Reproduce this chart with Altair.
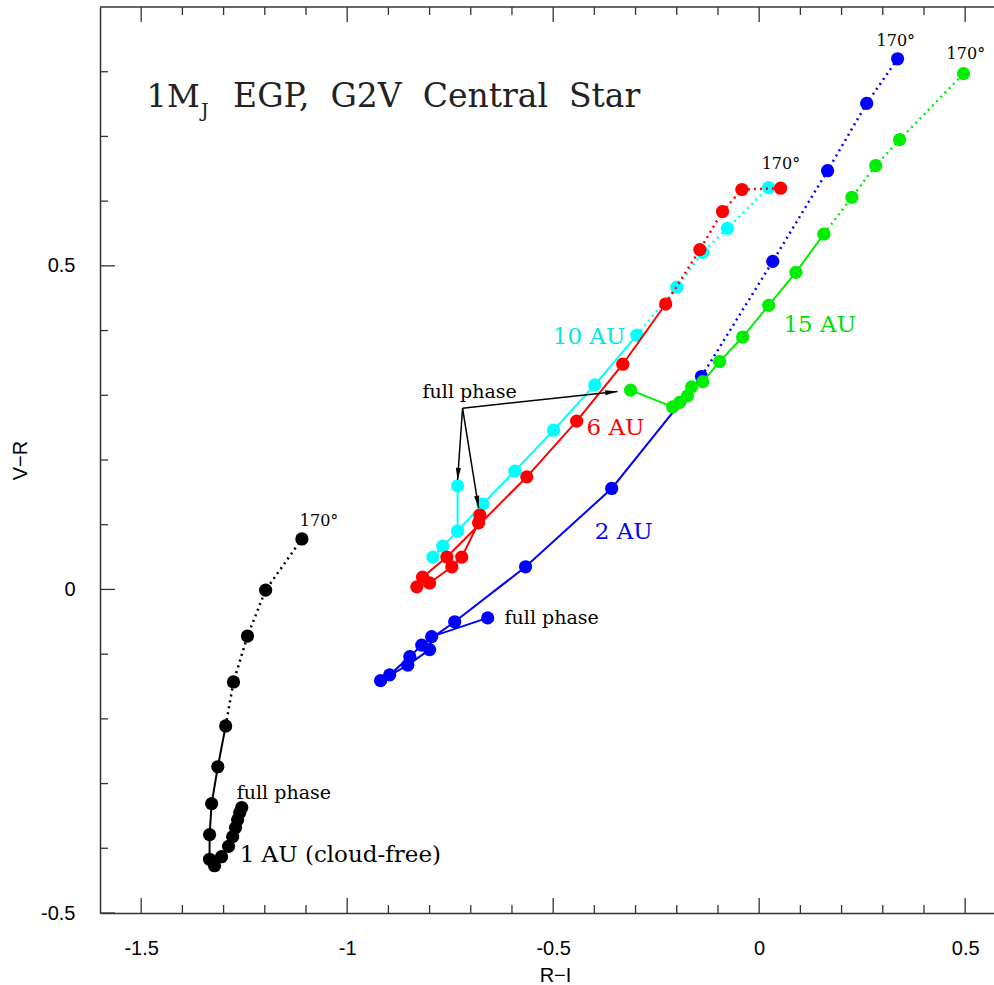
import math
import altair as alt
import numpy as np
import pandas as pd

# ---------------- data ----------------
series_names = ["1 AU", "2 AU", "6 AU", "10 AU", "15 AU"]
series_colors = ["#000000", "#0000ff", "#ff0000", "#00ffff", "#00ee00"]

au1_x = [-1.256, -1.261, -1.266, -1.271, -1.278, -1.288, -1.305, -1.322, -1.334,
         -1.334, -1.329, -1.314, -1.295, -1.276, -1.242, -1.198, -1.110]
au1_y = [-0.337, -0.345, -0.356, -0.368, -0.382, -0.397, -0.413, -0.427, -0.417,
         -0.379, -0.331, -0.274, -0.211, -0.143, -0.072, -0.001, 0.078]

au2_x = [-0.659, -0.795, -0.800, -0.853, -0.919, -0.897, -0.848, -0.819, -0.739,
         -0.567, -0.358, -0.140, 0.033, 0.166, 0.261, 0.336]
au2_y = [-0.044, -0.073, -0.093, -0.117, -0.141, -0.132, -0.104, -0.086, -0.050,
         0.035, 0.156, 0.329, 0.507, 0.647, 0.751, 0.820]

au6_x = [-0.678, -0.681, -0.722, -0.746, -0.800, -0.831, -0.817, -0.758, -0.564,
         -0.443, -0.331, -0.227, -0.144, -0.089, -0.042, 0.052]
au6_y = [0.115, 0.103, 0.050, 0.035, 0.010, 0.004, 0.019, 0.050, 0.174,
         0.260, 0.348, 0.441, 0.525, 0.584, 0.618, 0.620]

au10_x = [-0.732, -0.732, -0.768, -0.792, -0.671, -0.593, -0.499, -0.399, -0.297,
          -0.200, -0.137, -0.077, 0.023]
au10_y = [0.160, 0.090, 0.067, 0.050, 0.132, 0.183, 0.246, 0.316, 0.393,
          0.467, 0.521, 0.558, 0.621]

au15_x = [-0.312, -0.210, -0.193, -0.174, -0.164, -0.137, -0.096, -0.040, 0.023,
          0.089, 0.157, 0.225, 0.283, 0.341, 0.496]
au15_y = [0.308, 0.282, 0.289, 0.299, 0.313, 0.321, 0.352, 0.390, 0.439,
          0.490, 0.549, 0.606, 0.655, 0.695, 0.797]

# index of last point on the solid part (dotted afterwards)
solid_last = [12, 11, 11, 8, 10]

series_x = [au1_x, au2_x, au6_x, au10_x, au15_x]
series_y = [au1_y, au2_y, au6_y, au10_y, au15_y]
draw_order = ["10 AU", "6 AU", "2 AU", "15 AU", "1 AU"]

# annotations
lab_text = ["1 AU (cloud-free)", "full phase", "170°", "full phase", "2 AU", "6 AU",
            "10 AU", "15 AU", "full phase", "170°", "170°", "170°"]
lab_x = [-1.261, -1.268, -1.115, -0.618, -0.399, -0.419, -0.501, 0.059, -0.817,
         0.006, 0.285, 0.455]
lab_y = [-0.411, -0.314, 0.106, -0.044, 0.089, 0.249, 0.390, 0.408, 0.305,
         0.657, 0.848, 0.828]
lab_color = ["#000000", "#000000", "#000000", "#000000", "#0000ff", "#ff0000",
             "#00e5e5", "#00dd00", "#000000", "#000000", "#000000", "#000000"]
lab_size = [23, 19, 16, 19, 23, 23, 23, 23, 19, 16, 16, 16]

NB = "\u00a0"
title_text = ["1M", "J", "EGP," + NB * 2 + "G2V" + NB * 2 + "Central" + NB * 2 + "Star"]
title_x = [-1.487, -1.355, -1.277]
title_y = [0.746, 0.730, 0.746]
title_size = [32, 19, 33]

arrow_x0 = [-0.720, -0.720, -0.720]
arrow_y0 = [0.280, 0.280, 0.280]
arrow_x1 = [-0.732, -0.681, -0.344]
arrow_y1 = [0.169, 0.126, 0.306]

x_major = [-1.5, -1.0, -0.5, 0.0, 0.5]
y_major = [-0.5, 0.0, 0.5]

# ---------------- layout ----------------
W, H = 894, 906
XMIN, XMAX = -1.6, 0.57
YMIN, YMAX = -0.5, 0.9
PXX = W / (XMAX - XMIN)
PXY = H / (YMAX - YMIN)
FRAME = "#333333"

def _is_major(v):
    return abs(v * 2 - round(v * 2)) < 1e-6

x_minor = [round(v, 1) for v in np.arange(-1.5, 0.55, 0.1) if not _is_major(round(v, 1))]
y_minor = [round(v, 1) for v in np.arange(-0.4, 0.85, 0.1) if not _is_major(round(v, 1))]

xscale = alt.Scale(domain=[XMIN, XMAX], nice=False, zero=False)
yscale = alt.Scale(domain=[YMIN, YMAX], nice=False, zero=False)

label_expr = "replace(format(datum.value, '~g'), '\u2212', '-')"

xaxis = alt.Axis(values=x_major, ticks=False, grid=False, domainColor=FRAME, domainWidth=1.5,
                 labelFont="Liberation Sans", labelFontSize=20, labelColor="#000000",
                 labelExpr=label_expr,
                 labelPadding=25, labelFlush=False, title="R−I", titleFont="Liberation Sans",
                 titleFontSize=20, titleFontWeight="normal", titleColor="#000000",
                 titleX=455, titleY=68, titleBaseline="alphabetic", titleAlign="center")
yaxis = alt.Axis(values=y_major, ticks=False, grid=False, domainColor=FRAME, domainWidth=1.5,
                 labelFont="Liberation Sans", labelFontSize=20, labelColor="#000000",
                 labelExpr=label_expr,
                 labelPadding=25, labelFlush=False, title="V−R", titleFont="Liberation Sans",
                 titleFontSize=20, titleFontWeight="normal", titleColor="#000000",
                 titleX=-80, titleBaseline="middle")

X = alt.X("x:Q", scale=xscale, axis=xaxis)
Y = alt.Y("y:Q", scale=yscale, axis=yaxis)

layers = []

# frame top line
layers.append(alt.Chart(pd.DataFrame({"x": [0]})).mark_rule(color=FRAME, strokeWidth=1.5).encode(
    x=alt.value(0), x2=alt.value(W), y=alt.value(0)))

# inward ticks
dfxM = pd.DataFrame({"x": x_major})
dfxm = pd.DataFrame({"x": x_minor})
dfyM = pd.DataFrame({"y": y_major})
dfym = pd.DataFrame({"y": y_minor})
for df, ln in [(dfxM, 15), (dfxm, 8)]:
    layers.append(alt.Chart(df).mark_rule(color=FRAME, strokeWidth=1.3).encode(
        x=X, y=alt.value(H), y2=alt.value(H - ln)))
    layers.append(alt.Chart(df).mark_rule(color=FRAME, strokeWidth=1.3).encode(
        x=X, y=alt.value(0), y2=alt.value(ln)))
for df, ln in [(dfyM, 15), (dfym, 8)]:
    layers.append(alt.Chart(df).mark_rule(color=FRAME, strokeWidth=1.3).encode(
        y=Y, x=alt.value(0), x2=alt.value(ln)))

# series
for name in draw_order:
    k = series_names.index(name)
    col = series_colors[k]
    xs, ys, sl = series_x[k], series_y[k], solid_last[k]
    df = pd.DataFrame({"x": xs, "y": ys, "i": list(range(len(xs)))})
    solid = df[df["i"] <= sl]
    dotted = df[df["i"] >= sl]
    layers.append(alt.Chart(solid).mark_line(color=col, strokeWidth=2).encode(
        x=X, y=Y, order="i:Q"))
    layers.append(alt.Chart(dotted).mark_line(color=col, strokeWidth=2.5, strokeDash=[2, 4]).encode(
        x=X, y=Y, order="i:Q"))
    layers.append(alt.Chart(df).mark_circle(color=col, size=175, opacity=1).encode(x=X, y=Y))

# arrows
angles = []
for x0, y0, x1, y1 in zip(arrow_x0, arrow_y0, arrow_x1, arrow_y1):
    a = math.degrees(math.atan2((x1 - x0) * PXX, (y1 - y0) * PXY)) % 360
    angles.append(a)
arr = pd.DataFrame({"x": arrow_x0, "y": arrow_y0, "x2": arrow_x1, "y2": arrow_y1, "angle": angles})
layers.append(alt.Chart(arr).mark_rule(color="#000000", strokeWidth=1.5).encode(
    x=X, y=Y, x2="x2:Q", y2="y2:Q"))
heads = pd.DataFrame({"x": arrow_x1, "y": arrow_y1, "angle": angles})
layers.append(alt.Chart(heads).mark_point(shape="M0,0L-0.42,2L0.42,2Z", filled=True, color="#000000",
                                          size=150, opacity=1, strokeWidth=0).encode(
    x=X, y=Y, angle=alt.Angle("angle:Q", scale=None)))

# labels
labs = pd.DataFrame({"x": lab_x, "y": lab_y, "t": lab_text, "c": lab_color, "s": lab_size})
layers.append(alt.Chart(labs).mark_text(font="DejaVu Serif", align="left", baseline="middle").encode(
    x=X, y=Y, text="t:N", color=alt.Color("c:N", scale=None), size=alt.Size("s:Q", scale=None)))

tt = pd.DataFrame({"x": title_x, "y": title_y, "t": title_text, "s": title_size})
layers.append(alt.Chart(tt).mark_text(font="DejaVu Serif", align="left", baseline="alphabetic",
                                      color="#222222").encode(
    x=X, y=Y, text="t:N", size=alt.Size("s:Q", scale=None)))

chart = alt.layer(*layers).properties(
    width=W, height=H, autosize="none",
    padding={"left": 100, "top": 7, "right": 0, "bottom": 72},
    background="white",
).configure_view(stroke=None)

chart.save("out.html", embed_options={"renderer": "svg", "actions": False})
